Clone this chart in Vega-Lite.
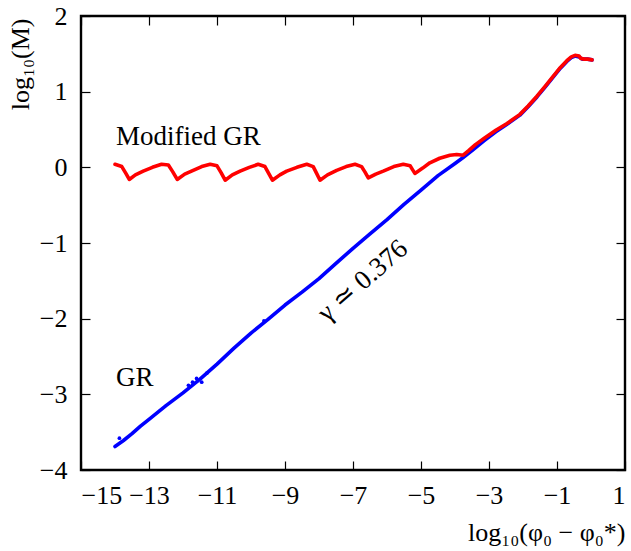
{
  "$schema": "https://vega.github.io/schema/vega-lite/v6.json",
  "width": 544,
  "height": 454,
  "autosize": {"type": "none"},
  "padding": {"left": 81, "top": 16, "right": 6, "bottom": 81},
  "datasets": {
    "curves": [
      {"series": "GR", "x": -14.0, "y": -3.69},
      {"series": "GR", "x": -13.75, "y": -3.61},
      {"series": "GR", "x": -13.5, "y": -3.52},
      {"series": "GR", "x": -13.25, "y": -3.42},
      {"series": "GR", "x": -13.0, "y": -3.33},
      {"series": "GR", "x": -12.5, "y": -3.15},
      {"series": "GR", "x": -12.0, "y": -2.98},
      {"series": "GR", "x": -11.5, "y": -2.8},
      {"series": "GR", "x": -11.0, "y": -2.6},
      {"series": "GR", "x": -10.5, "y": -2.39},
      {"series": "GR", "x": -10.0, "y": -2.19},
      {"series": "GR", "x": -9.5, "y": -2.01},
      {"series": "GR", "x": -9.0, "y": -1.82},
      {"series": "GR", "x": -8.5, "y": -1.65},
      {"series": "GR", "x": -8.0, "y": -1.47},
      {"series": "GR", "x": -7.5, "y": -1.27},
      {"series": "GR", "x": -7.0, "y": -1.07},
      {"series": "GR", "x": -6.5, "y": -0.88},
      {"series": "GR", "x": -6.0, "y": -0.69},
      {"series": "GR", "x": -5.5, "y": -0.49},
      {"series": "GR", "x": -5.0, "y": -0.3},
      {"series": "GR", "x": -4.5, "y": -0.11},
      {"series": "GR", "x": -4.0, "y": 0.05},
      {"series": "GR", "x": -3.76, "y": 0.13},
      {"series": "GR", "x": -3.5, "y": 0.22},
      {"series": "GR", "x": -3.15, "y": 0.35},
      {"series": "GR", "x": -2.8, "y": 0.47},
      {"series": "GR", "x": -2.47, "y": 0.57},
      {"series": "GR", "x": -2.09, "y": 0.69},
      {"series": "GR", "x": -1.85, "y": 0.8},
      {"series": "GR", "x": -1.59, "y": 0.93},
      {"series": "GR", "x": -1.35, "y": 1.06},
      {"series": "GR", "x": -1.12, "y": 1.19},
      {"series": "GR", "x": -0.9, "y": 1.31},
      {"series": "GR", "x": -0.71, "y": 1.4},
      {"series": "GR", "x": -0.58, "y": 1.45},
      {"series": "GR", "x": -0.47, "y": 1.47},
      {"series": "GR", "x": -0.35, "y": 1.46},
      {"series": "GR", "x": -0.26, "y": 1.43},
      {"series": "GR", "x": -0.1, "y": 1.43},
      {"series": "GR", "x": 0.03, "y": 1.42},
      {"series": "Modified GR", "x": -14.0, "y": 0.04},
      {"series": "Modified GR", "x": -13.8, "y": 0.01},
      {"series": "Modified GR", "x": -13.68, "y": -0.08},
      {"series": "Modified GR", "x": -13.58, "y": -0.16},
      {"series": "Modified GR", "x": -13.4, "y": -0.1},
      {"series": "Modified GR", "x": -13.17, "y": -0.05},
      {"series": "Modified GR", "x": -12.9, "y": 0.0},
      {"series": "Modified GR", "x": -12.63, "y": 0.04},
      {"series": "Modified GR", "x": -12.43, "y": 0.03},
      {"series": "Modified GR", "x": -12.3, "y": -0.06},
      {"series": "Modified GR", "x": -12.17, "y": -0.16},
      {"series": "Modified GR", "x": -11.95, "y": -0.09},
      {"series": "Modified GR", "x": -11.7, "y": -0.04},
      {"series": "Modified GR", "x": -11.45, "y": 0.01},
      {"series": "Modified GR", "x": -11.2, "y": 0.04},
      {"series": "Modified GR", "x": -11.0, "y": 0.02},
      {"series": "Modified GR", "x": -10.88, "y": -0.07},
      {"series": "Modified GR", "x": -10.76, "y": -0.17},
      {"series": "Modified GR", "x": -10.55, "y": -0.1},
      {"series": "Modified GR", "x": -10.32, "y": -0.05},
      {"series": "Modified GR", "x": -10.05, "y": 0.0},
      {"series": "Modified GR", "x": -9.79, "y": 0.04},
      {"series": "Modified GR", "x": -9.59, "y": 0.01},
      {"series": "Modified GR", "x": -9.48, "y": -0.08},
      {"series": "Modified GR", "x": -9.37, "y": -0.17},
      {"series": "Modified GR", "x": -9.15, "y": -0.1},
      {"series": "Modified GR", "x": -8.95, "y": -0.05},
      {"series": "Modified GR", "x": -8.65, "y": 0.0},
      {"series": "Modified GR", "x": -8.36, "y": 0.04},
      {"series": "Modified GR", "x": -8.17, "y": 0.01},
      {"series": "Modified GR", "x": -8.07, "y": -0.08},
      {"series": "Modified GR", "x": -7.97, "y": -0.17},
      {"series": "Modified GR", "x": -7.75, "y": -0.1},
      {"series": "Modified GR", "x": -7.48, "y": -0.04},
      {"series": "Modified GR", "x": -7.2, "y": 0.01},
      {"series": "Modified GR", "x": -6.94, "y": 0.04},
      {"series": "Modified GR", "x": -6.75, "y": 0.01},
      {"series": "Modified GR", "x": -6.65, "y": -0.06},
      {"series": "Modified GR", "x": -6.55, "y": -0.14},
      {"series": "Modified GR", "x": -6.33, "y": -0.09},
      {"series": "Modified GR", "x": -6.11, "y": -0.05},
      {"series": "Modified GR", "x": -5.8, "y": 0.01},
      {"series": "Modified GR", "x": -5.52, "y": 0.04},
      {"series": "Modified GR", "x": -5.32, "y": 0.02},
      {"series": "Modified GR", "x": -5.25, "y": -0.03},
      {"series": "Modified GR", "x": -5.18, "y": -0.08},
      {"series": "Modified GR", "x": -4.95, "y": -0.01},
      {"series": "Modified GR", "x": -4.74, "y": 0.06},
      {"series": "Modified GR", "x": -4.45, "y": 0.12},
      {"series": "Modified GR", "x": -4.15, "y": 0.16},
      {"series": "Modified GR", "x": -3.95, "y": 0.17},
      {"series": "Modified GR", "x": -3.76, "y": 0.16},
      {"series": "Modified GR", "x": -3.6, "y": 0.22},
      {"series": "Modified GR", "x": -3.4, "y": 0.3},
      {"series": "Modified GR", "x": -3.15, "y": 0.38},
      {"series": "Modified GR", "x": -2.8, "y": 0.49},
      {"series": "Modified GR", "x": -2.47, "y": 0.58},
      {"series": "Modified GR", "x": -2.09, "y": 0.7},
      {"series": "Modified GR", "x": -1.85, "y": 0.81},
      {"series": "Modified GR", "x": -1.59, "y": 0.94},
      {"series": "Modified GR", "x": -1.35, "y": 1.07},
      {"series": "Modified GR", "x": -1.12, "y": 1.2},
      {"series": "Modified GR", "x": -0.9, "y": 1.32},
      {"series": "Modified GR", "x": -0.71, "y": 1.41},
      {"series": "Modified GR", "x": -0.58, "y": 1.46},
      {"series": "Modified GR", "x": -0.47, "y": 1.48},
      {"series": "Modified GR", "x": -0.35, "y": 1.47},
      {"series": "Modified GR", "x": -0.3, "y": 1.44},
      {"series": "Modified GR", "x": -0.2, "y": 1.43},
      {"series": "Modified GR", "x": -0.1, "y": 1.43},
      {"series": "Modified GR", "x": 0.03, "y": 1.42}
    ],
    "strays": [
      {"x": -13.87, "y": -3.58},
      {"x": -11.84, "y": -2.88},
      {"x": -11.72, "y": -2.84},
      {"x": -11.6, "y": -2.79},
      {"x": -11.45, "y": -2.84},
      {"x": -11.3, "y": -2.72},
      {"x": -9.62, "y": -2.03}
    ],
    "notes": [
      {"label": "Modified GR", "x": -13.97, "y": 0.4, "kind": "flat"},
      {"label": "GR", "x": -13.97, "y": -2.78, "kind": "flat"},
      {"label": "γ ≃ 0.376", "x": -6.71, "y": -1.5, "kind": "slope"}
    ]
  },
  "layer": [
    {
      "data": {"name": "curves"},
      "mark": {"type": "line", "strokeWidth": 3.6, "interpolate": "linear", "strokeJoin": "round", "strokeCap": "round"},
      "encoding": {
        "x": {
          "field": "x", "type": "quantitative",
          "scale": {"domain": [-15, 1], "nice": false, "zero": false},
          "axis": {
            "values": [-15, -13, -11, -9, -7, -5, -3, -1, 1],
            "title": "log₁₀(φ₀ − φ₀*)",
            "titleAnchor": "end", "titleAlign": "right", "titleBaseline": "middle",
            "titleX": 544, "titleY": 62, "titleAngle": 0,
            "labelPadding": 21
          }
        },
        "y": {
          "field": "y", "type": "quantitative",
          "scale": {"domain": [-4, 2], "nice": false, "zero": false},
          "axis": {
            "values": [-4, -3, -2, -1, 0, 1, 2],
            "title": "log₁₀(M)",
            "titleAngle": -90, "titleAlign": "right", "titleBaseline": "middle",
            "titleX": -61, "titleY": 2,
            "labelPadding": 23
          }
        },
        "color": {
          "field": "series", "type": "nominal",
          "scale": {"domain": ["GR", "Modified GR"], "range": ["#0000ff", "#ff0000"]},
          "legend": null
        },
        "order": {"field": "x", "type": "quantitative"},
        "detail": {"field": "series"}
      }
    },
    {
      "data": {"name": "strays"},
      "mark": {"type": "circle", "size": 14, "color": "#0000ff", "opacity": 1},
      "encoding": {
        "x": {"field": "x", "type": "quantitative", "axis": null},
        "y": {"field": "y", "type": "quantitative", "axis": null}
      }
    },
    {
      "data": {"name": "notes"},
      "transform": [{"filter": "datum.kind == 'flat'"}],
      "mark": {"type": "text", "align": "left", "baseline": "middle", "fontSize": 27, "font": "Liberation Serif", "color": "#000000"},
      "encoding": {
        "x": {"field": "x", "type": "quantitative", "axis": null},
        "y": {"field": "y", "type": "quantitative", "axis": null},
        "text": {"field": "label"}
      }
    },
    {
      "data": {"name": "notes"},
      "transform": [{"filter": "datum.kind == 'slope'"}],
      "mark": {"type": "text", "align": "center", "baseline": "middle", "angle": -41, "fontSize": 27, "font": "Liberation Serif", "color": "#000000"},
      "encoding": {
        "x": {"field": "x", "type": "quantitative", "axis": null},
        "y": {"field": "y", "type": "quantitative", "axis": null},
        "text": {"field": "label"}
      }
    },
    {
      "data": {"name": "strays"},
      "mark": {"type": "point", "opacity": 0},
      "encoding": {
        "x": {
          "field": "x", "type": "quantitative",
          "axis": {"orient": "top", "values": [-15, -13, -11, -9, -7, -5, -3, -1, 1], "labels": false, "title": null}
        },
        "y": {
          "field": "y", "type": "quantitative",
          "axis": {"orient": "right", "values": [-4, -3, -2, -1, 0, 1, 2], "labels": false, "title": null}
        }
      }
    }
  ],
  "resolve": {"axis": {"x": "independent", "y": "independent"}},
  "config": {
    "view": {"stroke": "#000000", "strokeWidth": 2.4},
    "axis": {
      "domain": false,
      "grid": false,
      "ticks": true,
      "tickSize": -9,
      "tickColor": "#000000",
      "tickWidth": 1.2,
      "labelFont": "Liberation Serif",
      "labelFontSize": 26,
      "labelColor": "#000000",
      "titleFont": "Liberation Serif",
      "titleFontSize": 26,
      "titleFontWeight": "normal",
      "titleColor": "#000000"
    }
  }
}
